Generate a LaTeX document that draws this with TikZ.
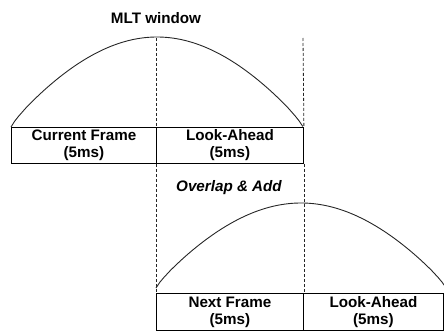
\documentclass[tikz,border=0pt]{standalone}
\usepackage{fontspec}
\setmainfont{Liberation Sans}
\begin{document}
\begin{tikzpicture}[x=1pt,y=-1pt,
  cell/.style={draw=black,line width=0.9pt,inner sep=0pt,minimum height=36pt,
    font=\fontsize{15.2}{17}\selectfont\bfseries,align=center},
  guide/.style={draw=black!85,line width=0.8pt,dash pattern=on 3pt off 2pt},
  winline/.style={draw=black!85,line width=0.9pt},
  lbl/.style={font=\fontsize{15.2}{17}\selectfont\bfseries,inner sep=0pt}]
\useasboundingbox (0,0) rectangle (444,331);
% top frame pair
\node[cell,minimum width=145pt,anchor=north west] (cur) at (11,127) {Current Frame\\(5ms)};
\node[cell,minimum width=147pt,anchor=north west] (la1) at (156,127) {Look-Ahead\\(5ms)};
% bottom frame pair
\node[cell,minimum width=147pt,minimum height=37pt,anchor=north west] (nxt) at (156,293) {Next Frame\\(5ms)};
\node[cell,minimum width=140pt,minimum height=37pt,anchor=north west] (la2) at (303,293) {Look-Ahead\\(5ms)};
% titles
\node[lbl] (title) at (156,18) {MLT window};
\node[lbl,font=\fontsize{15.2}{17}\selectfont\bfseries\itshape] (ola) at (229,188) {Overlap \& Add};
% sine windows
\draw[winline] plot[domain=0:1,samples=80] ({11+292*\x},{127-90*(sin(180*\x))^0.85});
\draw[winline] plot[domain=0:1,samples=80] ({156+290*\x},{288-85*(sin(180*\x))^0.85});
% alignment guides
\coordinate (g1top) at (156,38);
\coordinate (g2top) at (303,38);
\draw[guide] (g1top) -- (la1.north west);
\draw[guide] (g2top) -- (la1.north east);
\draw[guide] (la1.south west) -- (nxt.north west);
\draw[guide] (la1.south east) -- (nxt.north east);
\end{tikzpicture}
\end{document}
